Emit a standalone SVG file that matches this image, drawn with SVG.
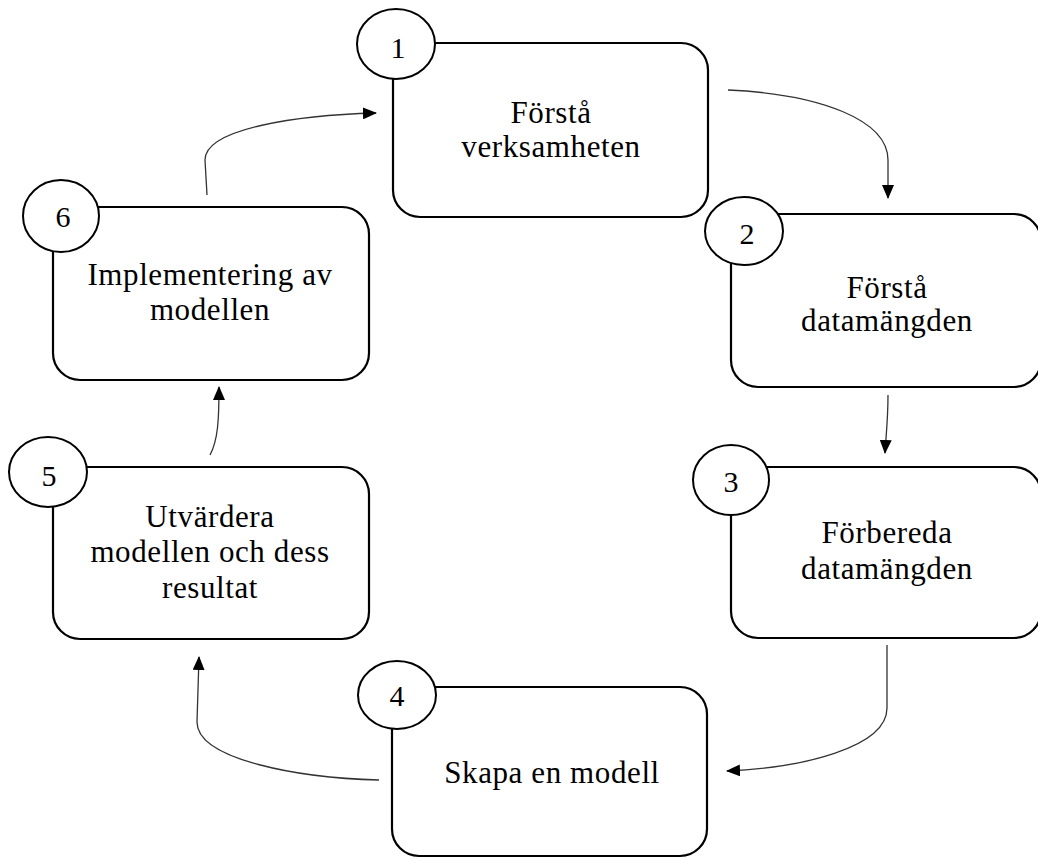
<svg xmlns="http://www.w3.org/2000/svg" width="1038" height="859" viewBox="0 0 1038 859">
<style>
.box{fill:#fff;stroke:#000;stroke-width:2.2}
.num{fill:#fff;stroke:#000;stroke-width:2}
.t{font-family:"Liberation Serif","Times New Roman",serif;font-size:31px;letter-spacing:0.6px;fill:#000;text-anchor:middle}
.n{font-family:"Liberation Serif","Times New Roman",serif;font-size:30px;fill:#000;text-anchor:middle}
.c{fill:none;stroke:#333;stroke-width:1.3}
</style>
<defs>
<marker id="ah" markerWidth="14" markerHeight="12" refX="13" refY="6" orient="auto" markerUnits="userSpaceOnUse">
<path d="M0,0 L14,6 L0,12 Z" fill="#000"/>
</marker>
</defs>
<rect width="1038" height="859" fill="#fff"/>
<g id="connectors">
<path class="c" d="M728,90 C820,94 888,120 888,160 L888,198" marker-end="url(#ah)"/>
<path class="c" d="M888,395 C888,420 886,435 885,453" marker-end="url(#ah)"/>
<path class="c" d="M887,645 L887,708 C887,748 800,768 727,771" marker-end="url(#ah)"/>
<path class="c" d="M379,780 C300,778 197,760 197,722 L199,657" marker-end="url(#ah)"/>
<path class="c" d="M210,455 C218,440 219,420 219,387" marker-end="url(#ah)"/>
<path class="c" d="M207,195 L205,160 C205,128 300,115 376,113" marker-end="url(#ah)"/>
</g>
<g id="node1">
<rect class="box" x="393" y="43" width="315" height="174" rx="27"/>
<ellipse class="num" cx="396" cy="44" rx="39" ry="35"/>
<text class="n" x="398" y="58">1</text>
<text class="t" x="551" y="123">Förstå</text>
<text class="t" x="551" y="157">verksamheten</text>
</g>
<g id="node2">
<rect class="box" x="731" y="214" width="310" height="173" rx="27"/>
<ellipse class="num" cx="744" cy="231" rx="39" ry="34"/>
<text class="n" x="747" y="244">2</text>
<text class="t" x="887" y="298">Förstå</text>
<text class="t" x="887" y="331">datamängden</text>
</g>
<g id="node3">
<rect class="box" x="731" y="467" width="310" height="171" rx="27"/>
<ellipse class="num" cx="731" cy="480" rx="38" ry="35"/>
<text class="n" x="731" y="492">3</text>
<text class="t" x="887" y="543">Förbereda</text>
<text class="t" x="887" y="579">datamängden</text>
</g>
<g id="node4">
<rect class="box" x="392" y="687" width="315" height="169" rx="27"/>
<ellipse class="num" cx="397" cy="695" rx="39" ry="34"/>
<text class="n" x="397" y="706">4</text>
<text class="t" x="552" y="783">Skapa en modell</text>
</g>
<g id="node5">
<rect class="box" x="53" y="467" width="316" height="172" rx="27"/>
<ellipse class="num" cx="48" cy="472" rx="39" ry="35"/>
<text class="n" x="49" y="486">5</text>
<text class="t" x="210" y="527">Utvärdera</text>
<text class="t" x="210" y="562">modellen och dess</text>
<text class="t" x="210" y="598">resultat</text>
</g>
<g id="node6">
<rect class="box" x="53" y="207" width="316" height="173" rx="27"/>
<ellipse class="num" cx="61" cy="216" rx="38" ry="36"/>
<text class="n" x="63" y="227">6</text>
<text class="t" x="210" y="285">Implementering av</text>
<text class="t" x="210" y="320">modellen</text>
</g>
</svg>
